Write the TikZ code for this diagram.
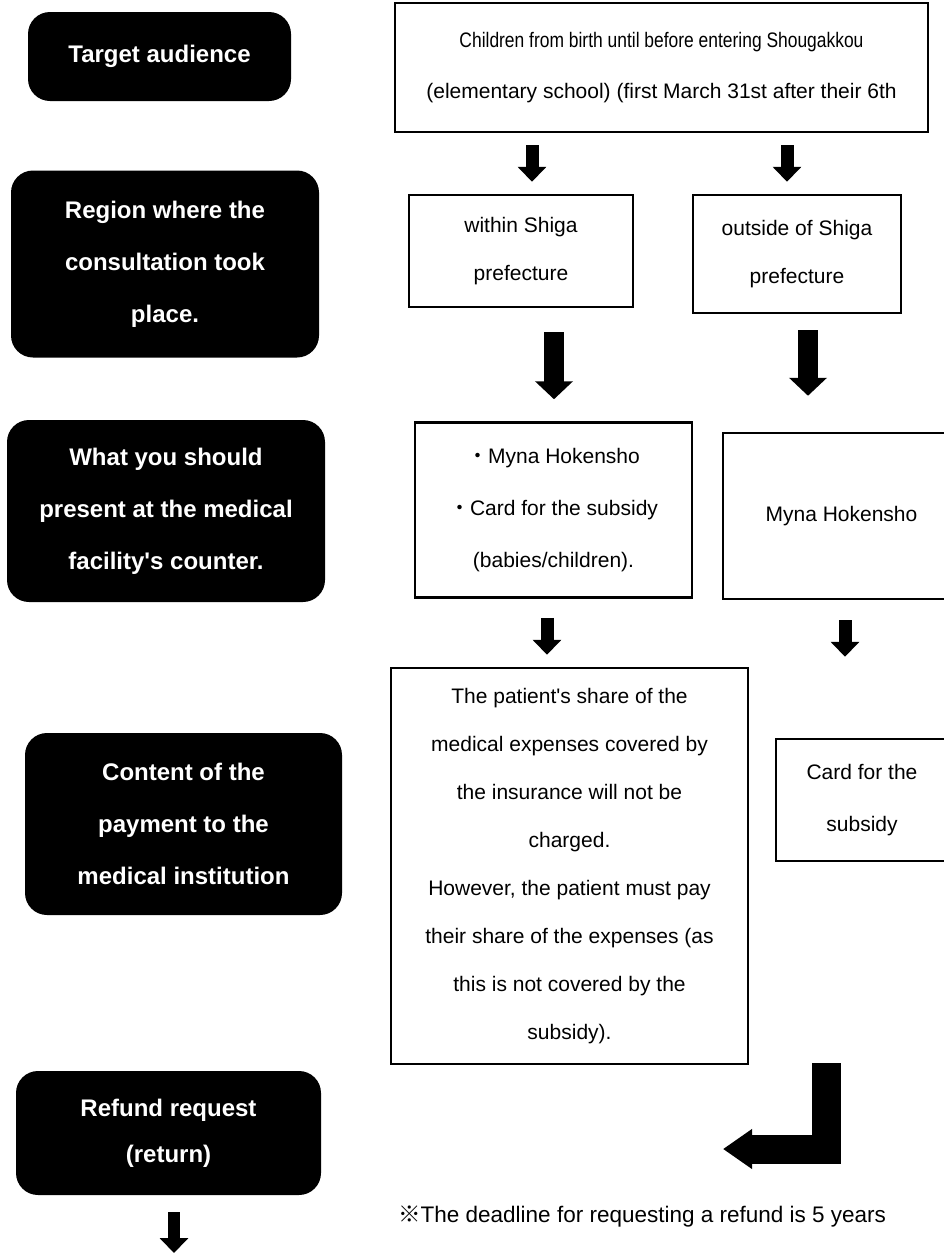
\documentclass[tikz,border=0pt]{standalone}
\usepackage{fontspec}
\setmainfont{Liberation Sans}
\newfontfamily\jpfont{Noto Sans CJK JP}
\usetikzlibrary{arrows.meta}

\begin{document}
\begin{tikzpicture}[x=1pt, y=-1pt,
    titre/.style = {fill=black, text=white, rounded corners=22pt, align=center, inner sep=0pt, font=\bfseries\fontsize{24}{52}\selectfont},
    boite/.style = {draw, line width=2.5pt, align=center, inner sep=0pt, font=\fontsize{21}{48}\selectfont},
    fleche/.style = {line width=13pt, -{Triangle[width=28pt, length=15pt]}},
    grosse/.style = {line width=20pt, -{Triangle[width=37pt, length=18pt]}}]
    \clip (0,0) rectangle (944,1254);

    % Nœuds
    \node[titre, minimum width=263pt, minimum height=89pt] (1) at (159.5,56.5) {Target audience};

    \node[boite, minimum width=533pt, minimum height=129pt, font=\fontsize{21}{51}\selectfont] (2) at (661.5,67.5)
        {\scalebox{0.83}[1]{Children from birth until before entering Shougakkou}\\(elementary school) (first March 31st after their 6th};

    \node[titre, minimum width=308pt, minimum height=187pt] (3) at (165,264) {Region where the\\consultation took\\place.};

    \node[boite, minimum width=224pt, minimum height=112pt] (4) at (521,251) {within Shiga\\prefecture};

    \node[boite, minimum width=208pt, minimum height=118pt] (5) at (797,254) {outside of Shiga\\prefecture};

    \node[titre, minimum width=318pt, minimum height=182pt] (6) at (166,511) {What you should\\present at the medical\\facility\textquotesingle s counter.};

    \node[boite, minimum width=277pt, minimum height=175pt, font=\fontsize{21}{52}\selectfont] (7) at (553.5,510)
        {{\jpfont ・}Myna Hokensho\\{\jpfont ・}Card for the subsidy\\(babies/children).};

    \node[boite, minimum width=237pt, minimum height=166pt] (8) at (841.5,516) {Myna Hokensho};

    \node[titre, minimum width=317pt, minimum height=182pt] (9) at (183.5,824) {Content of the\\payment to the\\medical institution};

    \node[boite, minimum width=357pt, minimum height=396pt] (10) at (569.5,866)
        {The patient\textquotesingle s share of the\\medical expenses covered by\\the insurance will not be\\charged.\\However, the patient must pay\\their share of the expenses (as\\this is not covered by the\\subsidy).};

    \node[boite, minimum width=172pt, minimum height=122pt, font=\fontsize{21}{52}\selectfont] (11) at (862,800) {Card for the\\subsidy};

    \node[titre, minimum width=305pt, minimum height=124pt, font=\bfseries\fontsize{24}{46}\selectfont] (12) at (168.5,1133) {Refund request\\(return)};

    \node[anchor=base west, inner sep=0pt, font=\fontsize{22.5}{28}\selectfont] (13) at (398,1222)
        {{\jpfont ※}The deadline for requesting a refund is 5 years};

    % Flèches
    \coordinate (a1) at (532,0);
    \coordinate (a2) at (787,0);
    \coordinate (b1) at (554,0);
    \coordinate (b2) at (808,0);
    \coordinate (c1) at (547,0);
    \coordinate (c2) at (845,0);
    \coordinate (e1) at (826.5,1063);
    \coordinate (e2) at (723,1149);
    \coordinate (d1) at (174,1253);

    \draw[fleche, shorten <=12pt, shorten >=12pt] (2.south -| a1) -- (4.north -| a1);
    \draw[fleche, shorten <=12pt, shorten >=12pt] (2.south -| a2) -- (5.north -| a2);
    \draw[grosse, shorten <=24pt, shorten >=22pt] (4.south -| b1) -- (7.north -| b1);
    \draw[grosse, shorten <=16pt, shorten >=36pt] (5.south -| b2) -- (8.north -| b2);
    \draw[fleche, shorten <=19pt, shorten >=12pt] (7.south -| c1) -- (10.north -| c1);
    \draw[fleche, shorten <=20pt, shorten >=81pt] (8.south -| c2) -- (11.north -| c2);
    \draw[line width=29pt, -{Triangle[width=38pt, length=29pt]}] (e1) |- (e2);
    \draw[fleche, line width=12pt, shorten <=17pt] (12.south -| d1) -- (d1);
\end{tikzpicture}
\end{document}
